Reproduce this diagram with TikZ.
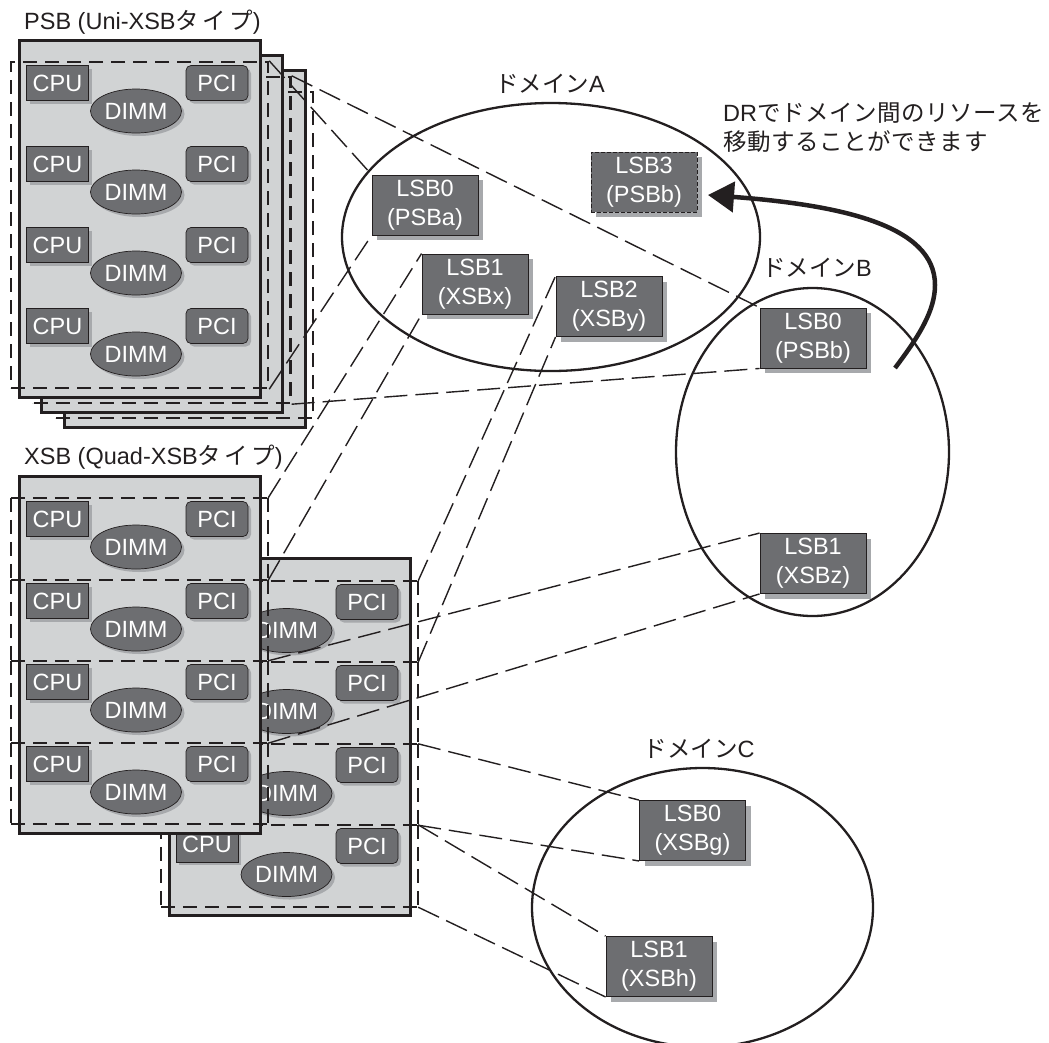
\documentclass[tikz,border=0pt]{standalone}
\usepackage{fontspec}
\setmainfont{Liberation Sans}
\newfontfamily\cjk{Noto Sans CJK JP}
\newfontfamily\cjkmid[LetterSpace=2.5]{Noto Sans CJK JP}
\newfontfamily\cjkwide[LetterSpace=14]{Noto Sans CJK JP}
\usetikzlibrary{positioning}
\usetikzlibrary{shapes.geometric}
\usetikzlibrary{shadows}
\usetikzlibrary{arrows.meta}
\definecolor{boardgray}{RGB}{209,211,212}
\definecolor{partgray}{RGB}{109,110,113}
\definecolor{shadegray}{RGB}{167,169,172}
\definecolor{inkgray}{RGB}{35,31,32}
\tikzset{
  board/.style={draw=inkgray, fill=boardgray, line width=3pt, minimum width=241pt, minimum height=357pt, inner sep=0pt},
  slotline/.style={draw=inkgray, line width=2.4pt, dash pattern=on 14pt off 8pt},
  slot/.style={slotline, minimum width=257pt, inner sep=0pt},
  row/.style={minimum width=257pt, inner sep=0pt},
  part/.style={draw=inkgray, fill=partgray, line width=0.7pt, text=white, inner sep=0pt, font=\fontsize{23.5}{23.5}\selectfont,
    general shadow={shadow xshift=3pt, shadow yshift=-3pt, fill=shadegray}},
  cpubox/.style={part, minimum width=62pt, minimum height=35pt},
  pcibox/.style={part, rounded corners=5pt, minimum width=62pt, minimum height=35pt},
  dimmbox/.style={part, ellipse, minimum width=91pt, minimum height=44pt},
  lsb/.style={draw=inkgray, fill=partgray, line width=0.9pt, text=white, inner sep=0pt, align=center,
    minimum width=106pt, minimum height=60pt, font=\fontsize{23.5}{29}\selectfont,
    general shadow={shadow xshift=5pt, shadow yshift=-5pt, fill=shadegray}},
  domainring/.style={draw=inkgray, line width=2.3pt, ellipse, inner sep=0pt},
  link/.style={draw=inkgray, line width=1.4pt, dash pattern=on 23pt off 8pt},
  caption/.style={text=inkgray, inner sep=0pt, font=\fontsize{23.5}{29}\selectfont}
}
\begin{document}
\begin{tikzpicture}[x=1pt,y=-1pt]
      \useasboundingbox (0,0) rectangle (1049,1042);
      \begin{scope}
      \clip (0,0) rectangle (1049,1042);

      % psb stack, back to front
      \node[board] (psbc) at (184.5,248.5) {};
      \node[slot, minimum height=326pt] (slotc) at (184.5,255) {};
      \node[board] (psbb) at (162,233.5) {};
      \node[slot, minimum height=326pt] (slotb) at (162,240) {};
      \node[board] (psba) at (139.5,218.5) {};
      \foreach \n/\y in {1/62,2/143,3/224,4/305} {
        \node[cpubox] (pc\n) at (57.5,\y+21) {CPU};
        \node[pcibox] (pp\n) at (217,\y+21) {PCI};
        \node[dimmbox] (pd\n) at (136,\y+49) {DIMM};
      }
      \node[slot, minimum height=326pt] (slota) at (139.5,225) {};

      % xsb board at the back
      \node[board] (xsbb) at (289.5,737) {};
      \foreach \n/\y in {1/581,2/662,3/744,4/825} {
        \node[pcibox] (qp\n) at (367,\y+21) {PCI};
        \node[dimmbox] (qd\n) at (286.5,\y+49.5) {DIMM};
      }
      \node[cpubox] (qc4) at (207,844.5) {CPU};
      \node[row, minimum height=81pt] (rowe) at (289.5,621.5) {};
      \node[row, minimum height=82pt] (rowf) at (289.5,703) {};
      \node[row, minimum height=81pt] (rowg) at (289.5,784.5) {};
      \node[row, minimum height=82pt] (rowh) at (289.5,866) {};
      \foreach \r in {rowe,rowf,rowg,rowh} {
        \draw[slotline] (\r.north west) -- (\r.north east);
        \draw[slotline] (\r.north west) -- (\r.south west);
        \draw[slotline] (\r.north east) -- (\r.south east);
      }
      \draw[slotline] (rowh.south west) -- (rowh.south east);

      % xsb board in front
      \node[board] (xsba) at (139.5,654.5) {};
      \foreach \n/\y in {1/498,2/580,3/661,4/743} {
        \node[cpubox] (rc\n) at (57.5,\y+21) {CPU};
        \node[pcibox] (rp\n) at (217,\y+21) {PCI};
        \node[dimmbox] (rd\n) at (136,\y+49) {DIMM};
      }
      \node[row, minimum height=82pt] (rowa) at (139.5,539) {};
      \node[row, minimum height=81pt] (rowb) at (139.5,620.5) {};
      \node[row, minimum height=82pt] (rowc) at (139.5,702) {};
      \node[row, minimum height=81pt] (rowd) at (139.5,783.5) {};
      \foreach \r in {rowa,rowb,rowc,rowd} {
        \draw[slotline] (\r.north west) -- (\r.north east);
        \draw[slotline] (\r.north west) -- (\r.south west);
        \draw[slotline] (\r.north east) -- (\r.south east);
      }
      \draw[slotline] (rowd.south west) -- (rowd.south east);

      \node[domainring, minimum width=418pt, minimum height=268pt] (doma) at (551,237) {};
      \node[domainring, minimum width=273pt, minimum height=328pt] (domb) at (812.5,452) {};
      \node[domainring, minimum width=341pt, minimum height=279pt] (domc) at (702.5,907.5) {};

      \node[lsb] (a0) at (425,205) {LSB0\\(PSBa)};
      \node[lsb, dash pattern=on 4pt off 2pt, line width=0.7pt] (a3) at (644,182) {LSB3\\(PSBb)};
      \node[lsb] (a1) at (475,284) {LSB1\\(XSBx)};
      \node[lsb] (a2) at (609,306.5) {LSB2\\(XSBy)};
      \node[lsb] (b0) at (813,338) {LSB0\\(PSBb)};
      \node[lsb] (b1) at (813,563.5) {LSB1\\(XSBz)};
      \node[lsb] (c0) at (692.5,830.5) {LSB0\\(XSBg)};
      \node[lsb] (c1) at (659,966.5) {LSB1\\(XSBh)};

      \draw[link] (slota.north east) -- (a0.north west);
      \draw[link] (slota.south east) -- (a0.south west);
      \draw[link] (slotb.north east) -- (b0.north west);
      \draw[link] (slotb.south east) -- (b0.south west);
      \draw[link] (rowa.north east) -- (a1.north west);
      \draw[link] (rowa.south east) -- (a1.south west);
      \draw[link] (rowe.north east) -- (a2.north west);
      \draw[link] (rowe.south east) -- (a2.south west);
      \draw[link] (rowc.north east) -- (b1.north west);
      \draw[link] (rowc.south east) -- (b1.south west);
      \draw[link] (rowg.north east) -- (c0.north west);
      \draw[link] (rowg.south east) -- (c0.south west);
      \draw[link] (rowh.north east) -- (c1.north west);
      \draw[link] (rowh.south east) -- (c1.south west);

      \coordinate (movefrom) at (895,368);
      \coordinate (moveturn) at (935,285);
      \coordinate (moveto) at (708,195);
      \draw[draw=inkgray, line width=4.5pt, -{Triangle[length=26pt,width=30pt]}]
        (movefrom) .. controls (920,335) and (935,310) .. (moveturn)
        .. controls (935,225) and (840,205) .. (moveto);

      \node[caption, anchor=west] (psbt) at (24,22) {PSB (Uni-XSB{\cjkwide タイプ})};
      \node[caption, anchor=west] (xsbt) at (24,457) {XSB (Quad-XSB{\cjkwide タイプ})};
      \node[caption] (domat) at (550,84) {{\cjk ドメイン}A};
      \node[caption] (dombt) at (817,268) {{\cjk ドメイン}B};
      \node[caption] (domct) at (699,749) {{\cjk ドメイン}C};
      \node[caption, anchor=north west, align=left] (movet) at (723,102.5) {DR{\cjkmid でドメイン間のリソースを}\\{\cjkmid 移動することができます}};
      \end{scope}
    \end{tikzpicture}
\end{document}
